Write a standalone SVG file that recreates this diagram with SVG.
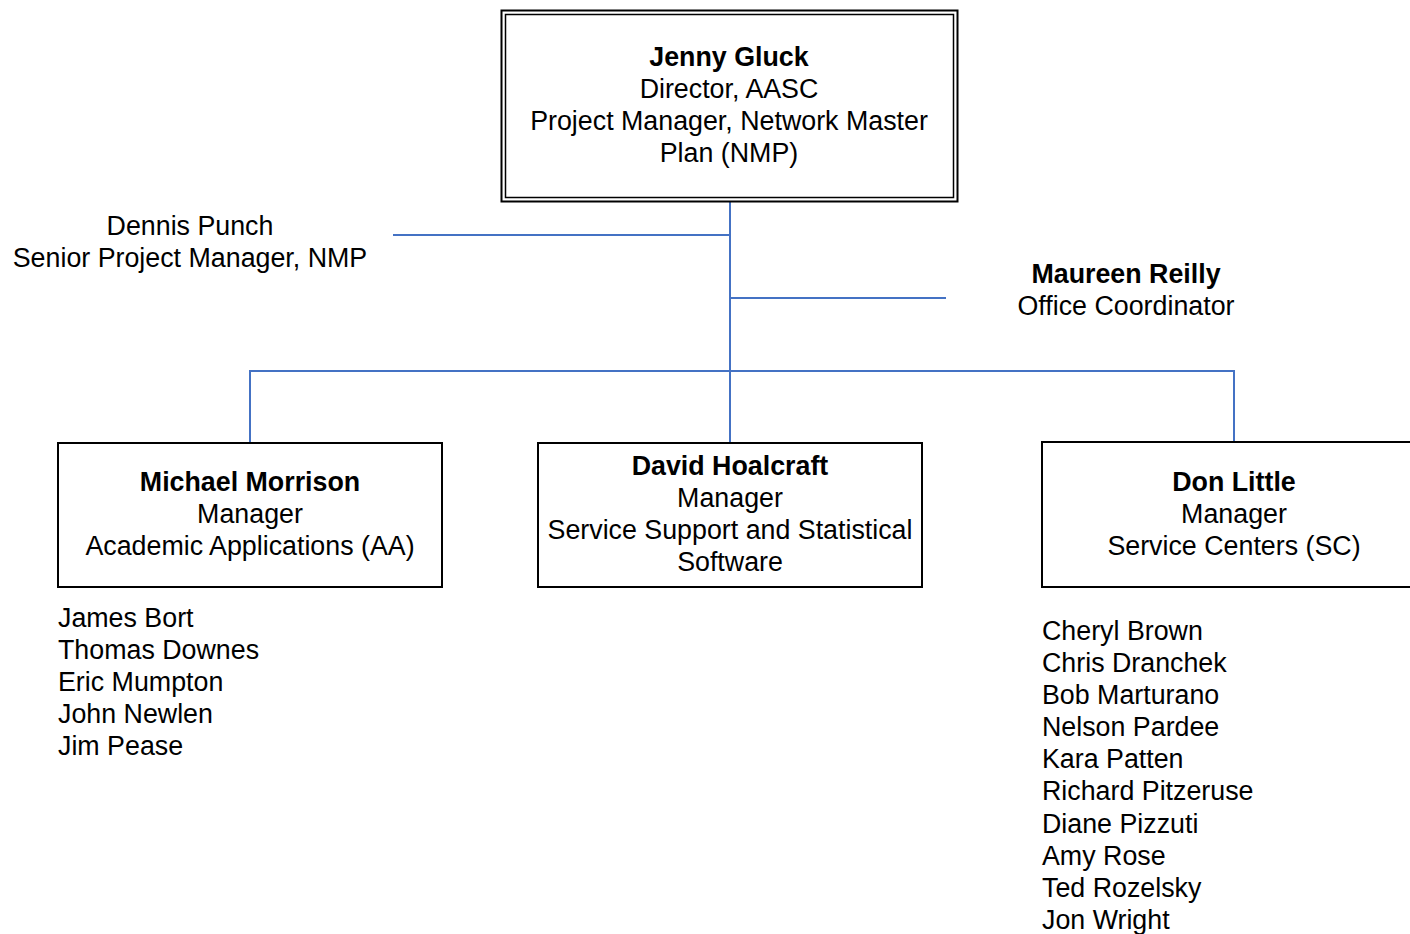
<svg xmlns="http://www.w3.org/2000/svg" width="1410" height="934" viewBox="0 0 1410 934">
<style>
text{font-family:"Liberation Sans",Arial,sans-serif;font-size:26.8px;fill:#000}
.c{text-anchor:middle}
.b{font-weight:bold}
.box{fill:#fff;stroke:#000;stroke-width:2}
.conn line{stroke:#4472C4;stroke-width:2}
</style>
<rect width="1410" height="934" fill="#fff"/>
<g id="connectors" class="conn">
<line x1="730" y1="201" x2="730" y2="443"/>
<line x1="393" y1="235" x2="731" y2="235"/>
<line x1="730" y1="298" x2="946" y2="298"/>
<line x1="249" y1="371" x2="1235" y2="371"/>
<line x1="250" y1="370" x2="250" y2="443"/>
<line x1="1234" y1="370" x2="1234" y2="442"/>
</g>
<g id="jenny">
<rect x="501.5" y="10.5" width="456" height="191" fill="#fff" stroke="#000" stroke-width="2"/>
<rect x="505.5" y="14.5" width="448" height="183" fill="none" stroke="#000" stroke-width="1.5"/>
<text class="c b" x="729" y="66">Jenny Gluck</text>
<text class="c" x="729" y="98">Director, AASC</text>
<text class="c" x="729" y="130">Project Manager, Network Master</text>
<text class="c" x="729" y="162">Plan (NMP)</text>
</g>
<g id="dennis">
<text class="c" x="190" y="235">Dennis Punch</text>
<text class="c" x="190" y="267">Senior Project Manager, NMP</text>
</g>
<g id="maureen">
<text class="c b" x="1126" y="283">Maureen Reilly</text>
<text class="c" x="1126" y="315">Office Coordinator</text>
</g>
<g id="michael">
<rect class="box" x="58" y="443" width="384" height="144"/>
<text class="c b" x="250" y="491">Michael Morrison</text>
<text class="c" x="250" y="523">Manager</text>
<text class="c" x="250" y="555">Academic Applications (AA)</text>
</g>
<g id="david">
<rect class="box" x="538" y="443" width="384" height="144"/>
<text class="c b" x="730" y="475">David Hoalcraft</text>
<text class="c" x="730" y="507">Manager</text>
<text class="c" x="730" y="539">Service Support and Statistical</text>
<text class="c" x="730" y="571">Software</text>
</g>
<g id="don">
<rect class="box" x="1042" y="442" width="384" height="145"/>
<text class="c b" x="1234" y="491">Don Little</text>
<text class="c" x="1234" y="523">Manager</text>
<text class="c" x="1234" y="555">Service Centers (SC)</text>
</g>
<g id="aa-staff">
<text x="58" y="627">James Bort</text>
<text x="58" y="659">Thomas Downes</text>
<text x="58" y="691">Eric Mumpton</text>
<text x="58" y="723">John Newlen</text>
<text x="58" y="755">Jim Pease</text>
</g>
<g id="sc-staff">
<text x="1042" y="640">Cheryl Brown</text>
<text x="1042" y="672">Chris Dranchek</text>
<text x="1042" y="704">Bob Marturano</text>
<text x="1042" y="736">Nelson Pardee</text>
<text x="1042" y="768">Kara Patten</text>
<text x="1042" y="800">Richard Pitzeruse</text>
<text x="1042" y="833">Diane Pizzuti</text>
<text x="1042" y="865">Amy Rose</text>
<text x="1042" y="897">Ted Rozelsky</text>
<text x="1042" y="929">Jon Wright</text>
</g>
</svg>
